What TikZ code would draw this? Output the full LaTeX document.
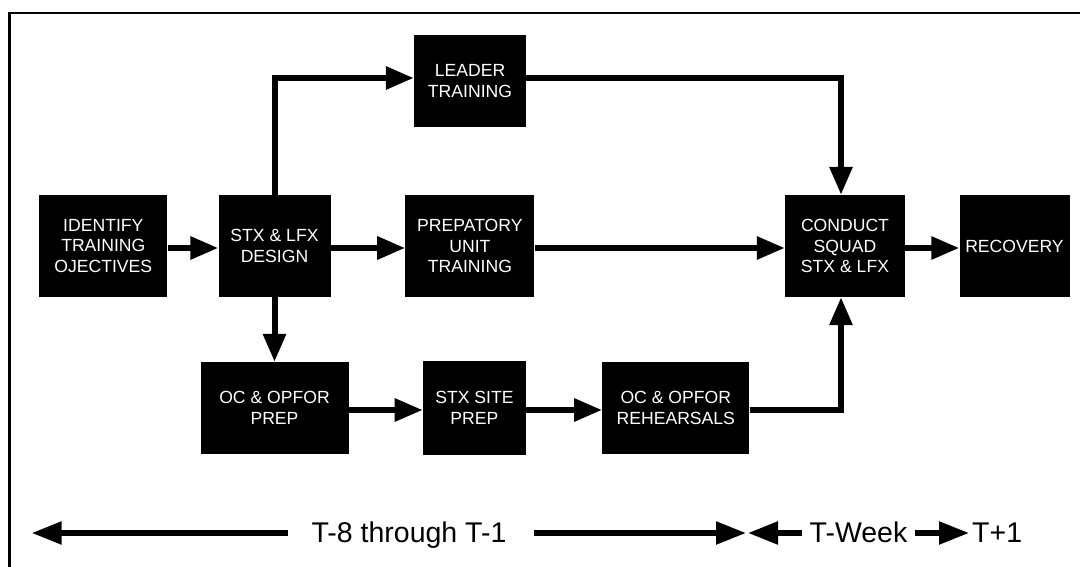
\documentclass[tikz,border=0pt]{standalone}
\usepackage{fontspec}
\setmainfont{Liberation Sans}
\usetikzlibrary{arrows.meta}
\tikzset{
  box/.style={fill=black, text=white, align=center, inner sep=0pt,
    font=\fontsize{17.6}{20.5}\selectfont},
  conn/.style={line width=6pt, -{Triangle[length=28pt,width=22pt]}},
  tline/.style={line width=5.5pt, -{Triangle[length=30pt,width=22pt]}},
  tlabel/.style={font=\fontsize{28.5}{30}\selectfont, anchor=base, inner sep=0pt},
  frame/.style={line width=2.5pt}
}
\begin{document}
\begin{tikzpicture}[x=1pt,y=-1pt]
\useasboundingbox (0,0) rectangle (1080,567);
\fill[white] (0,0) rectangle (1080,567);
\draw[frame] (9.5,567) -- (9.5,13) -- (1080,13);

\node[box, minimum width=128pt, minimum height=102pt] (ident) at (103.3,246) {IDENTIFY\\TRAINING\\OJECTIVES};
\node[box, minimum width=112pt, minimum height=102pt] (stx) at (274.5,246) {STX \& LFX\\DESIGN};
\node[box, minimum width=112pt, minimum height=92pt] (leader) at (470,81) {LEADER\\TRAINING};
\node[box, minimum width=129pt, minimum height=102pt] (prep) at (469.9,246) {PREPATORY\\UNIT\\TRAINING};
\node[box, minimum width=120pt, minimum height=102pt] (conduct) at (845,246) {CONDUCT\\SQUAD\\STX \& LFX};
\node[box, minimum width=110pt, minimum height=102pt] (recovery) at (1014.5,246) {RECOVERY};
\node[box, minimum width=148pt, minimum height=92pt] (ocprep) at (274.5,408) {OC \& OPFOR\\PREP};
\node[box, minimum width=103pt, minimum height=94pt] (site) at (474.4,408) {STX SITE\\PREP};
\node[box, minimum width=147pt, minimum height=92pt] (reh) at (675.8,408) {OC \& OPFOR\\REHEARSALS};

\coordinate (cx) at (841,0);
\draw[conn] ([yshift=-2pt]ident.east) -- ([yshift=-2pt]stx.west);
\draw[conn] ([yshift=-2pt]stx.east) -- ([yshift=-2pt]prep.west);
\draw[conn] ([yshift=-2pt]prep.east) -- ([yshift=-2pt]conduct.west);
\draw[conn] ([yshift=-2pt]conduct.east) -- ([yshift=-2pt]recovery.west);
\draw[conn] (stx.north) |- ([yshift=3pt]leader.west);
\draw[conn] ([yshift=3pt]leader.east) -| (conduct.north -| cx);
\draw[conn] (stx.south) -- (ocprep.north);
\draw[conn] ([yshift=-2pt]ocprep.east) -- ([yshift=-2pt]site.west);
\draw[conn] ([yshift=-2pt]site.east) -- ([yshift=-2pt]reh.west);
\draw[conn] ([yshift=-2pt]reh.east) -| (conduct.south -| cx);

\node[tlabel] (t1) at (409,542) {T-8 through T-1};
\node[tlabel] (t2) at (858.5,542) {T-Week};
\node[tlabel, anchor=base west] (t3) at (972,542) {T+1};
\coordinate (l0) at (31.7,533);
\coordinate (l1) at (287.5,533);
\coordinate (r1) at (533.7,533);
\coordinate (r0) at (746,533);
\coordinate (w0) at (748,533);
\coordinate (w1) at (801.7,533);
\coordinate (p1) at (914.6,533);
\coordinate (p0) at (969,533);
\draw[tline] (l1) -- (l0);
\draw[tline] (r1) -- (r0);
\draw[tline] (w1) -- (w0);
\draw[tline] (p1) -- (p0);
\end{tikzpicture}
\end{document}
